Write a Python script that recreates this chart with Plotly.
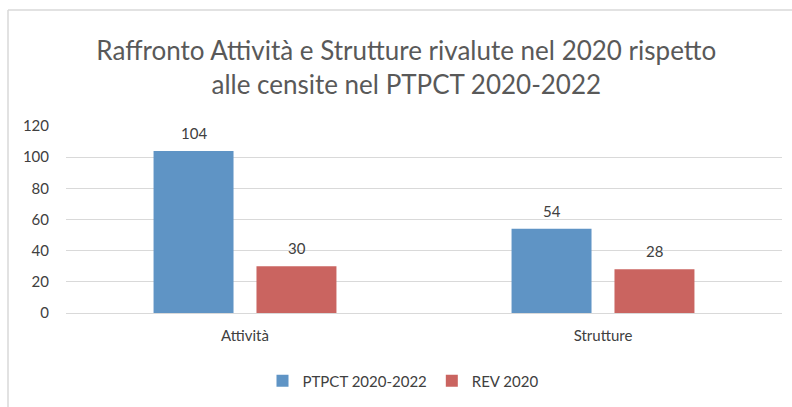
import plotly.graph_objects as go

categories = ["Attività", "Strutture"]
series_names = ["PTPCT 2020-2022", "REV 2020"]
ptpct_values = [104, 54]
rev_values = [30, 28]
y_ticks = [0, 20, 40, 60, 80, 100, 120]

title_text = "Raffronto Attività e Strutture rivalute nel 2020 rispetto<br>alle censite nel PTPCT 2020-2022"

FONT = "Lato"
TXT = "#404040"
LBL = 15

fig = go.Figure()
fig.add_trace(go.Bar(
    x=categories, y=ptpct_values, name=series_names[0],
    marker=dict(color="#5F94C5", line=dict(width=0)),
))
fig.add_trace(go.Bar(
    x=categories, y=rev_values, name=series_names[1],
    marker=dict(color="#CA6460", line=dict(width=0)),
))

# data labels placed through the data scales
annotations = []
for i, cat in enumerate(categories):
    for j, vals in enumerate([ptpct_values, rev_values]):
        annotations.append(dict(
            x=cat, y=vals[i], xref="x", yref="y",
            text=str(vals[i]), showarrow=False,
            xshift=(-51.5 if j == 0 else 51.5),
            yanchor="bottom", yshift=7,
            font=dict(family=FONT, size=LBL, color=TXT),
        ))

# plot area: x 66..782, y 126..313 (px)
L, R, T, B = 66, 10, 126, 94
W = 792 - L - R
H = 407 - T - B

def px_x(p):
    return (p - L) / W

def px_y(p):
    return (407 - B - p) / H

fig.update_layout(
    width=792, height=407,
    margin=dict(l=L, r=R, t=T, b=B),
    paper_bgcolor="white", plot_bgcolor="white",
    barmode="group", bargap=0.425, bargroupgap=0.223,
    font=dict(family=FONT, color=TXT),
    title=dict(
        text=title_text, x=0.513, xanchor="center",
        y=1 - 60 / 407, yanchor="middle", yref="container",
        font=dict(family=FONT, size=26, color="#595959"),
    ),
    xaxis=dict(
        showgrid=False, showline=False, zeroline=False, ticks="",
        ticklabelstandoff=12,
        tickfont=dict(family=FONT, size=LBL, color=TXT),
    ),
    yaxis=dict(
        range=[0, 120], tickvals=y_ticks, showgrid=True,
        gridcolor="#D9D9D9", gridwidth=1, zeroline=True,
        zerolinecolor="#D9D9D9", zerolinewidth=1, showline=False,
        ticks="", ticklabelstandoff=16,
        tickfont=dict(family=FONT, size=LBL, color=TXT),
    ),
    legend=dict(
        orientation="h", x=px_x(403), xanchor="center",
        y=px_y(381), yanchor="middle",
        font=dict(family=FONT, size=LBL, color=TXT),
        itemwidth=30, traceorder="normal",
    ),
    annotations=annotations,
    shapes=[
        dict(type="line", xref="paper", yref="paper",
             x0=px_x(8), x1=px_x(800), y0=px_y(10), y1=px_y(10),
             line=dict(color="#D9D9D9", width=1.5)),
        dict(type="line", xref="paper", yref="paper",
             x0=px_x(8), x1=px_x(8), y0=px_y(10), y1=px_y(420),
             line=dict(color="#D9D9D9", width=1.5)),
    ],
)

fig.write_html("out.html")
